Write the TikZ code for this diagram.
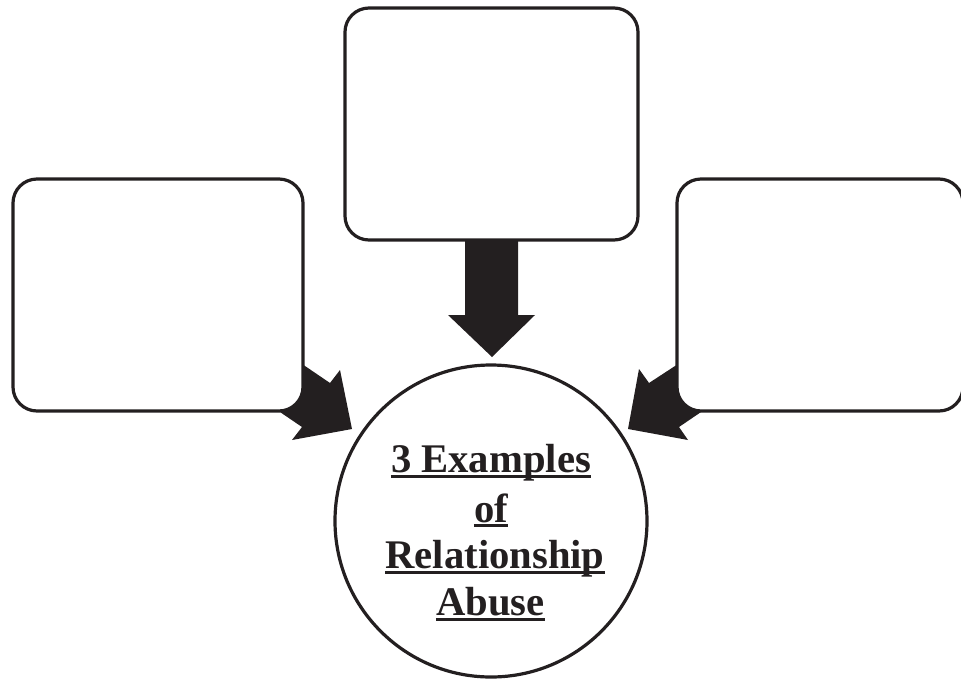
\documentclass[tikz,border=0pt]{standalone}
\usepackage{fontspec}
\setmainfont{Liberation Serif}
\definecolor{ink}{HTML}{231F20}
\begin{document}
\begin{tikzpicture}[x=0.75pt,y=-0.75pt,
  box/.style={draw=ink,fill=white,line width=2.4pt,rounded corners=18pt,inner sep=0pt},
  bigarrow/.style={fill=ink,draw=none},
  lbl/.style={font=\bfseries\fontsize{30.5}{36}\selectfont,inner sep=0pt,anchor=base,text=ink},
  uline/.style={draw=ink,line width=1.9pt}]
\useasboundingbox (0,0) rectangle (961,679);
% arrows (behind boxes)
\fill[bigarrow] (491,200) coordinate (dA) -- (465,200) -- (465,315) -- (448,315) -- (492,357) coordinate (dT) -- (535,315) -- (518,315) -- (518,200) -- cycle;
\fill[bigarrow] (280,349) -- (330,383) -- (340,370) -- (352,429) coordinate (lT) -- (292,440) -- (302,427) -- (252,393) -- cycle;
\fill[bigarrow] (701,349) -- (649,383) -- (639,369) -- (628,429) coordinate (rT) -- (688,440) -- (679,427) -- (729,393) -- cycle;
% boxes
\node[box,minimum width=293*0.75pt,minimum height=232*0.75pt] (top) at (491.5,124) {};
\node[box,minimum width=290*0.75pt,minimum height=232*0.75pt] (left) at (158,295) {};
\node[box,minimum width=286*0.75pt,minimum height=232*0.75pt] (right) at (820,295) {};
% circle
\node[draw=ink,line width=2.4pt,circle,minimum size=312*0.75pt,inner sep=0pt] (c) at (491,521) {};
% text
\node[lbl] (t1) at (491,472) {3 Examples};
\node[lbl] (t2) at (491,522) {of};
\node[lbl] (t3) at (495,568) {Relationship\ };
\node[lbl] (t4) at (490.5,615) {Abuse};
\draw[uline] ([yshift=-4.5*0.75pt]t1.base west) -- ([yshift=-4.5*0.75pt]t1.base east);
\draw[uline] ([yshift=-3.5*0.75pt]t2.base west) -- ([yshift=-3.5*0.75pt]t2.base east);
\draw[uline] ([yshift=-4.5*0.75pt]t3.base west) -- ([yshift=-4.5*0.75pt]t3.base east);
\draw[uline] ([yshift=-4.5*0.75pt]t4.base west) -- ([yshift=-4.5*0.75pt]t4.base east);
\end{tikzpicture}
\end{document}
